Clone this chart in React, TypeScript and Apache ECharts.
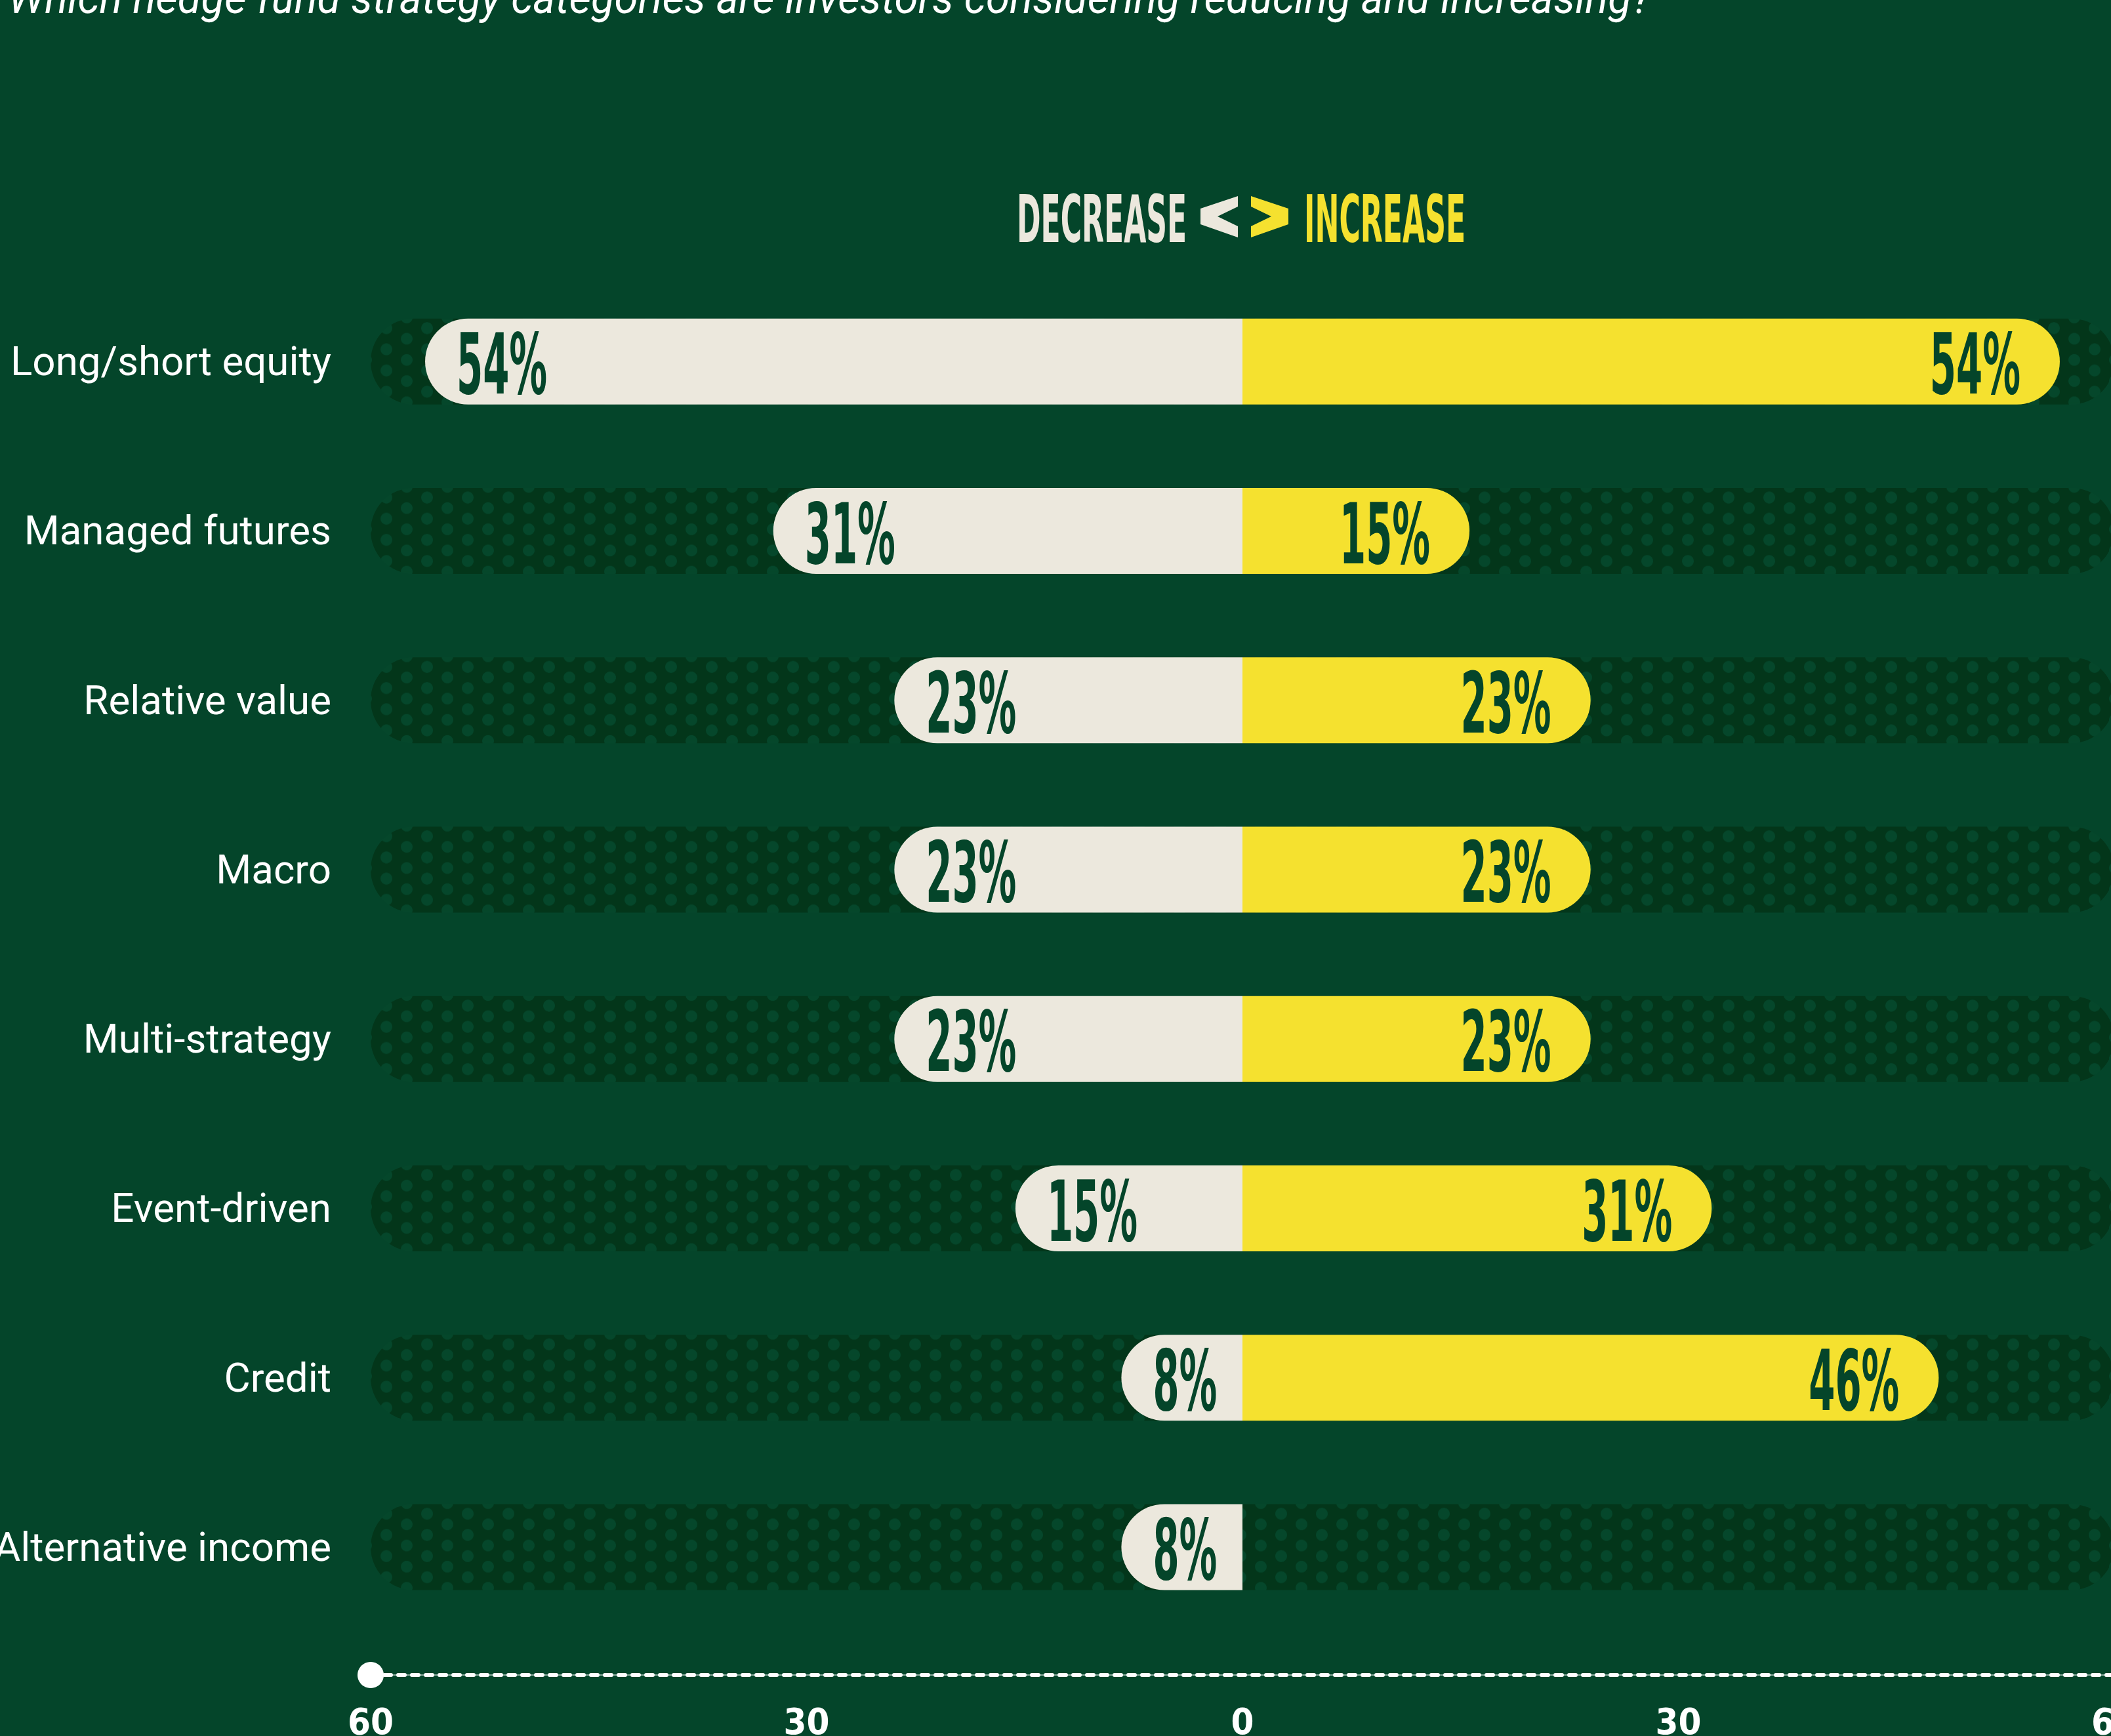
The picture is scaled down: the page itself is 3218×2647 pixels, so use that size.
import React, { useEffect, useRef } from 'react';
import * as echarts from 'echarts';

// ---------- data ----------
const categories = [
  'Long/short equity',
  'Managed futures',
  'Relative value',
  'Macro',
  'Multi-strategy',
  'Event-driven',
  'Credit',
  'Alternative income',
];
const decrease = [54, 31, 23, 23, 23, 15, 8, 8];
const increase = [54, 15, 23, 23, 23, 31, 46, 0];
const tickMin = -60;
const tickMax = 60;
const tickStep = 30;
const titleText = 'Which hedge fund strategy categories are investors considering reducing and increasing?';
const decreaseText = 'DECREASE';
const increaseText = 'INCREASE';

// ---------- style ----------
const W = 3218;
const H = 2647;
const BG = '#04452A';
const TRACK = '#03361A';
const DOT = '#05472B';
const BEIGE = '#ECE8DD';
const YELLOW = '#F5E12F';
const DARK = '#04452A';
const CF = "'Liberation Sans Narrow', 'DejaVu Sans Condensed', 'Liberation Sans', Arial, sans-serif";
const SANS = "Roboto, 'Noto Sans', sans-serif";

const GRID_LEFT = 565;
const GRID_WIDTH = 2658;
const GRID_TOP = 422;
const GRID_HEIGHT = 2066;
const BAR_W = 131;
const R = BAR_W / 2;
const BAR_AXIS = 57.6;

export default function App() {
  const ref = useRef<HTMLDivElement>(null);
  useEffect(() => {
    document.body.style.margin = '0';
    document.body.style.background = BG;
    document.body.style.overflow = 'hidden';
    const el = ref.current!;
    const chart = echarts.init(el, null, { renderer: 'svg' });

    const mctx = document.createElement('canvas').getContext('2d')!;
    const mw = (t: string, f: string) => {
      mctx.font = f;
      return mctx.measureText(t).width;
    };

    // dotted track pattern
    const band = GRID_HEIGHT / categories.length;
    const TW = 62;
    const TH = band / 8;
    const k = 4;
    const cv = document.createElement('canvas');
    cv.width = TW * k;
    cv.height = Math.round(TH * k);
    const c2 = cv.getContext('2d')!;
    c2.scale(cv.width / TW, cv.height / TH);
    c2.fillStyle = TRACK;
    c2.fillRect(0, 0, TW, TH);
    c2.fillStyle = DOT;
    for (const [x, y] of [[0, 0], [TW, 0], [0, TH], [TW, TH], [TW / 2, TH / 2]]) {
      c2.beginPath();
      c2.arc(x, y, 9, 0, Math.PI * 2);
      c2.fill();
    }
    const trackTop = GRID_TOP + (band - BAR_W) / 2;
    const pattern: any = {
      image: cv,
      repeat: 'repeat',
      imageWidth: TW,
      imageHeight: TH,
      x: GRID_LEFT,
      y: trackTop,
    };

    // font metrics
    const LBL_SIZE = 128;
    const lblScale = 138 / mw('54%', `bold ${LBL_SIZE}px ${CF}`);
    const HDR_SIZE = 99;
    const decScale = 259 / mw(decreaseText, `bold ${HDR_SIZE}px ${CF}`);
    const incScale = 246 / mw(increaseText, `bold ${HDR_SIZE}px ${CF}`);
    const TITLE_SIZE = 68;
    const titleScale = 2505 / mw(titleText, `italic ${TITLE_SIZE}px ${SANS}`);
    const catSize = (489 / mw('Long/short equity', `100px ${SANS}`)) * 100;
    const axSize = (70 / mw('60', `bold 100px ${CF}`)) * 100;

    const labelData: any[] = [];
    categories.forEach((_, i) => {
      labelData.push([i, decrease[i], -1]);
      labelData.push([i, increase[i], 1]);
    });

    const option: any = {
      animation: false,
      backgroundColor: BG,
      grid: {
        left: GRID_LEFT,
        top: GRID_TOP,
        width: GRID_WIDTH,
        height: GRID_HEIGHT,
        containLabel: false,
        outerBoundsMode: 'none',
      },
      xAxis: [
        { type: 'value', min: -BAR_AXIS, max: BAR_AXIS, show: false },
        {
          type: 'value',
          min: tickMin,
          max: tickMax,
          interval: tickStep,
          position: 'bottom',
          offset: 66,
          axisLine: { show: true, lineStyle: { color: 'rgba(255,255,255,0.55)', width: 2 } },
          axisTick: { show: false },
          splitLine: { show: false },
          axisLabel: { show: false },
        },
        {
          type: 'value',
          min: tickMin,
          max: tickMax,
          interval: tickStep,
          position: 'bottom',
          offset: 66,
          axisLine: {
            show: true,
            symbol: ['circle', 'none'],
            symbolSize: [40, 40],
            lineStyle: { color: '#FFFFFF', width: 6, type: [10, 11] },
          },
          axisTick: { show: false },
          splitLine: { show: false },
          axisLabel: {
            show: true,
            margin: 42,
            color: '#FFFFFF',
            fontFamily: CF,
            fontWeight: 'bold',
            fontSize: axSize,
            formatter: (v: number) => String(Math.abs(v)),
          },
        },
      ],
      yAxis: {
        type: 'category',
        inverse: true,
        data: categories,
        axisLine: { show: false },
        axisTick: { show: false },
        axisLabel: {
          margin: 60,
          color: '#FFFFFF',
          fontFamily: SANS,
          fontSize: catSize,
          padding: [0, 0, 16, 0],
        },
      },
      series: [
        {
          type: 'bar',
          name: 'Decrease',
          stack: 'total',
          barWidth: BAR_W,
          data: decrease.map((v) => -v),
          itemStyle: { color: BEIGE, borderRadius: [R, 0, 0, R] },
          showBackground: true,
          backgroundStyle: { color: pattern, borderRadius: R },
        },
        {
          type: 'bar',
          name: 'Increase',
          stack: 'total',
          barWidth: BAR_W,
          data: increase,
          itemStyle: { color: YELLOW, borderRadius: [0, R, R, 0] },
        },
        {
          type: 'custom',
          name: 'labels',
          z: 10,
          encode: { x: 1, y: 0 },
          data: labelData,
          renderItem: (params: any, api: any) => {
            const cat = api.value(0);
            const v = api.value(1);
            const side = api.value(2);
            if (!v) return null;
            const p = api.coord([side < 0 ? -v : v, cat]);
            return {
              type: 'text',
              x: p[0] + (side < 0 ? 48 : -60),
              y: p[1] + 5,
              scaleX: lblScale,
              style: {
                text: v + '%',
                fill: DARK,
                fontFamily: CF,
                fontWeight: 'bold',
                fontSize: LBL_SIZE,
                align: side < 0 ? 'left' : 'right',
                verticalAlign: 'middle',
              },
            };
          },
        },
      ],
      graphic: [
        {
          type: 'text',
          x: 12,
          y: -3,
          scaleX: titleScale,
          style: {
            text: titleText,
            fill: '#FFFFFF',
            fontFamily: SANS,
            fontStyle: 'italic',
            fontSize: TITLE_SIZE,
            align: 'left',
            verticalAlign: 'middle',
          },
        },
        {
          type: 'text',
          x: 1550,
          y: 334,
          scaleX: decScale,
          style: {
            text: decreaseText,
            fill: BEIGE,
            fontFamily: CF,
            fontWeight: 'bold',
            fontSize: HDR_SIZE,
            align: 'left',
            verticalAlign: 'middle',
          },
        },
        {
          type: 'polygon',
          shape: {
            points: [
              [1830, 318], [1887, 299], [1887, 315], [1856, 330], [1887, 345], [1887, 362], [1830, 342],
            ],
          },
          style: { fill: BEIGE },
        },
        {
          type: 'polygon',
          shape: {
            points: [
              [1964, 318], [1907, 299], [1907, 315], [1938, 330], [1907, 345], [1907, 362], [1964, 342],
            ],
          },
          style: { fill: YELLOW },
        },
        {
          type: 'text',
          x: 1988,
          y: 334,
          scaleX: incScale,
          style: {
            text: increaseText,
            fill: YELLOW,
            fontFamily: CF,
            fontWeight: 'bold',
            fontSize: HDR_SIZE,
            align: 'left',
            verticalAlign: 'middle',
          },
        },
      ],
    };
    chart.setOption(option);
    return () => chart.dispose();
  }, []);
  return <div ref={ref} style={{ width: W, height: H }} />;
}
